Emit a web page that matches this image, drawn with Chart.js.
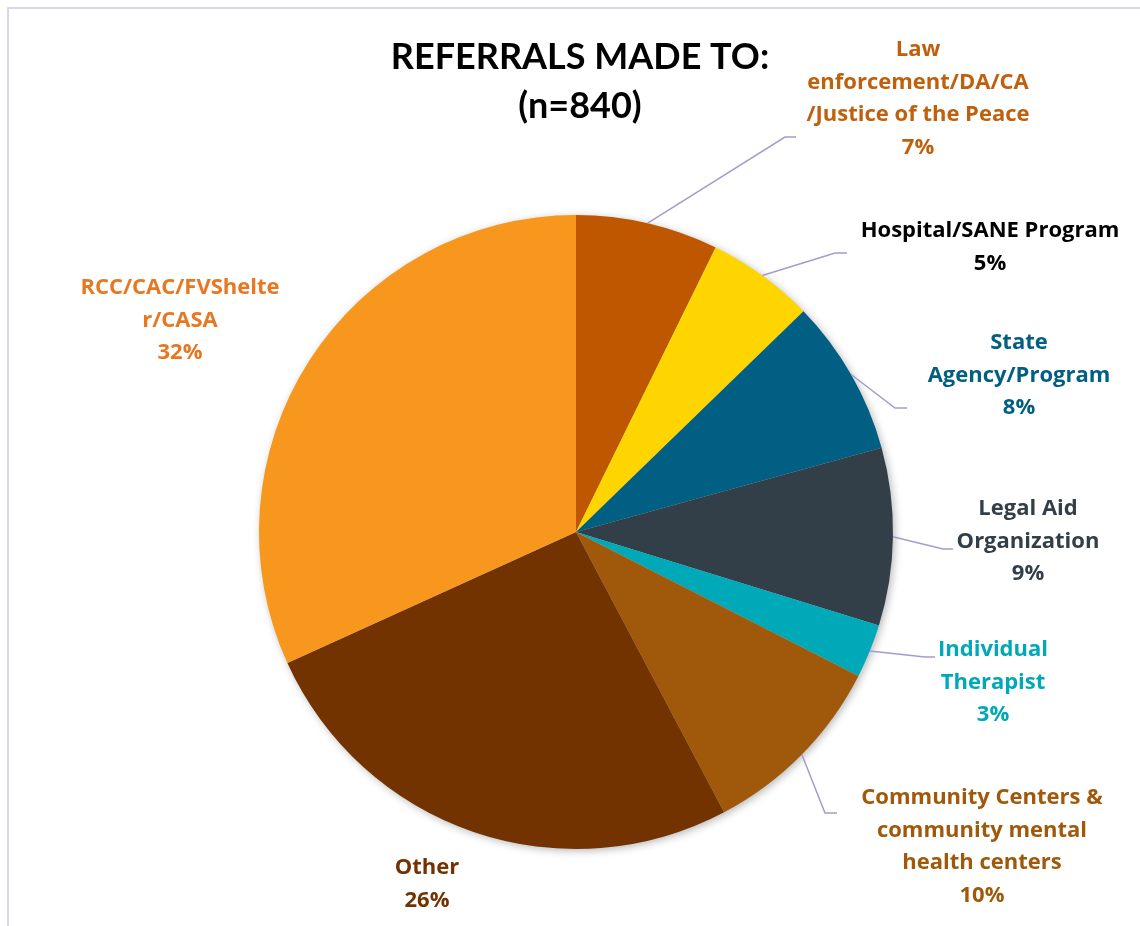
<!DOCTYPE html>
<html><head><meta charset="utf-8">
<script src="https://cdn.jsdelivr.net/npm/chart.js@4.4.0/dist/chart.umd.min.js"></script>
<style>html,body{margin:0;padding:0;background:#fff;} #wrap{width:1140px;height:926px;position:relative;}</style>
</head><body><div id="wrap"><canvas id="c" width="1140" height="926"></canvas></div>
<script>
// ---- data ----
const categories = [
  "Law enforcement/DA/CA/Justice of the Peace",
  "Hospital/SANE Program",
  "State Agency/Program",
  "Legal Aid Organization",
  "Individual Therapist",
  "Community Centers & community mental health centers",
  "Other",
  "RCC/CAC/FVShelter/CASA"
];
const labelLines = [
  ["Law", "enforcement/DA/CA", "/Justice of the Peace"],
  ["Hospital/SANE Program"],
  ["State", "Agency/Program"],
  ["Legal Aid", "Organization"],
  ["Individual", "Therapist"],
  ["Community Centers &", "community mental", "health centers"],
  ["Other"],
  ["RCC/CAC/FVShelte", "r/CASA"]
];
const counts = [61, 46, 67, 76, 23, 82, 218, 267];
const titleLines = ["REFERRALS MADE TO:", "(n=840)"];

// ---- styles ----
const sliceColors = ["#BF5700", "#FFD500", "#005F83", "#333F48", "#00A9B7", "#A0590A", "#733300", "#F7971D"];
const labelColors = ["#C0600C", "#000000", "#005F83", "#333F48", "#00A9B7", "#A0590A", "#733300", "#E87722"];
// label block layout: centre x, first line centre y, leader elbow and end (null = no leader)
const labelLayout = [
  {cx: 918, y: 50, elbow: [785, 137], end: [796, 137]},
  {cx: 990, y: 231, elbow: [835, 253], end: [847, 253]},
  {cx: 1019, y: 343, elbow: [895, 408], end: [907, 408]},
  {cx: 1028, y: 509, elbow: [943, 549], end: [953, 549]},
  {cx: 993, y: 650, elbow: [925, 657], end: [935, 657]},
  {cx: 982, y: 798, elbow: [825, 813], end: [837, 813]},
  {cx: 427, y: 868, elbow: null, end: null},
  {cx: 180, y: 288, elbow: null, end: null}
];
const TITLE_FONT = "bold 36px Lato, 'Open Sans', sans-serif";
const LABEL_FONT = "bold 22px 'Open Sans', Lato, sans-serif";
const LINE_H = 32.5;

const frameAndShadow = {
  id: 'frameAndShadow',
  beforeDraw(chart) {
    const ctx = chart.ctx;
    ctx.save();
    ctx.fillStyle = '#fff';
    ctx.fillRect(0, 0, chart.width, chart.height);
    ctx.strokeStyle = '#D9D5EA';
    ctx.lineWidth = 2;
    ctx.beginPath();
    ctx.moveTo(8, chart.height + 2);
    ctx.lineTo(8, 8);
    ctx.lineTo(chart.width + 2, 8);
    ctx.stroke();
    ctx.restore();
  },
  beforeDatasetsDraw(chart) {
    const arc = chart.getDatasetMeta(0).data[0];
    if (!arc) return;
    const ctx = chart.ctx;
    ctx.save();
    ctx.shadowColor = 'rgba(0,0,0,0.3)';
    ctx.shadowBlur = 8;
    ctx.shadowOffsetX = 2;
    ctx.shadowOffsetY = 2;
    ctx.fillStyle = '#ccc';
    ctx.beginPath();
    ctx.arc(arc.x, arc.y, arc.outerRadius - 0.5, 0, Math.PI * 2);
    ctx.fill();
    ctx.restore();
  }
};

const labelsPlugin = {
  id: 'labelsPlugin',
  afterDatasetsDraw(chart) {
    const ctx = chart.ctx;
    const meta = chart.getDatasetMeta(0);
    const data = chart.data.datasets[0].data;
    const total = data.reduce((a, b) => a + b, 0);
    ctx.save();
    // title
    ctx.fillStyle = '#000';
    ctx.textAlign = 'center';
    ctx.textBaseline = 'middle';
    ctx.font = TITLE_FONT;
    titleLines.forEach((t, i) => ctx.fillText(t, 580, 57 + i * 49));
    // data labels + leaders
    meta.data.forEach((arc, i) => {
      const L = labelLayout[i];
      if (L.elbow) {
        const mid = (arc.startAngle + arc.endAngle) / 2;
        const sx = arc.x + Math.cos(mid) * arc.outerRadius;
        const sy = arc.y + Math.sin(mid) * arc.outerRadius;
        ctx.strokeStyle = '#A59BCF';
        ctx.lineWidth = 1.5;
        ctx.beginPath();
        ctx.moveTo(sx, sy);
        ctx.lineTo(L.elbow[0], L.elbow[1]);
        ctx.lineTo(L.end[0], L.end[1]);
        ctx.stroke();
      }
      const pct = Math.round(data[i] / total * 100) + '%';
      const lines = labelLines[i].concat([pct]);
      ctx.fillStyle = labelColors[i];
      ctx.font = LABEL_FONT;
      lines.forEach((t, k) => ctx.fillText(t, L.cx, L.y + k * LINE_H));
    });
    ctx.restore();
  }
};

new Chart(document.getElementById('c'), {
  type: 'pie',
  data: {
    labels: categories,
    datasets: [{
      data: counts,
      backgroundColor: sliceColors,
      borderWidth: 0,
      hoverOffset: 0
    }]
  },
  options: {
    responsive: false,
    animation: false,
    events: [],
    layout: {padding: {top: 215, bottom: 77, left: 259, right: 247}},
    plugins: {legend: {display: false}, tooltip: {enabled: false}, title: {display: false}}
  },
  plugins: [frameAndShadow, labelsPlugin]
});
</script>
</body></html>
